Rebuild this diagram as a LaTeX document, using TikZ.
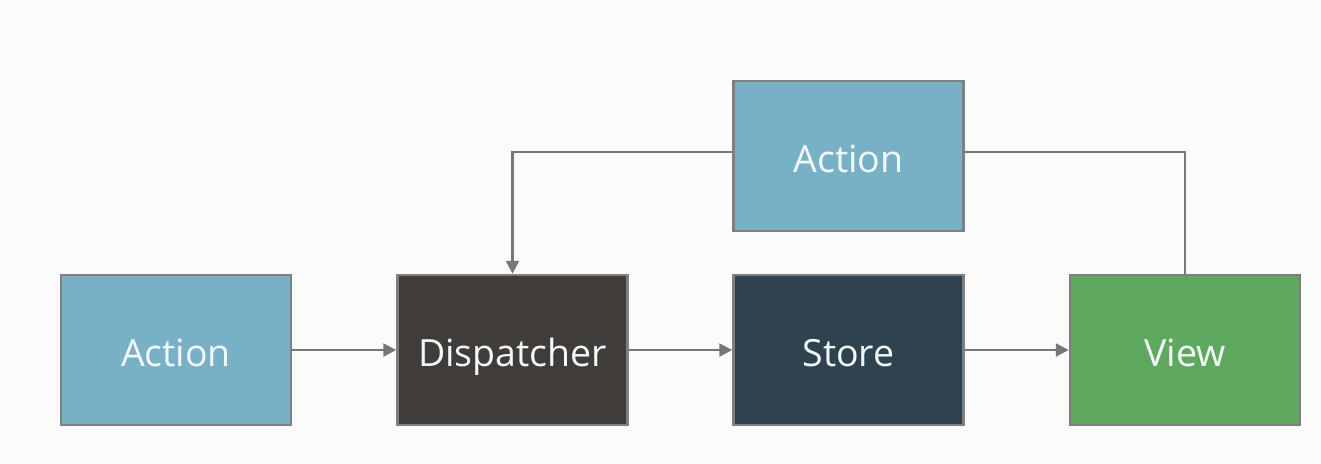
\documentclass[tikz,border=0pt]{standalone}
\usepackage{fontspec}
\setmainfont{Open Sans}
\usetikzlibrary{arrows.meta}
\definecolor{bgc}{HTML}{FBFBFC}
\definecolor{actionc}{HTML}{78B1C6}
\definecolor{dispc}{HTML}{3F3C3A}
\definecolor{storec}{HTML}{2E424F}
\definecolor{viewc}{HTML}{5EA95F}
\definecolor{edgec}{HTML}{7F7F7F}
\definecolor{linec}{HTML}{777777}
\definecolor{txtc}{HTML}{F2F8FA}
\begin{document}
\begin{tikzpicture}[x=1pt,y=-1pt,
  box/.style={draw=edgec,line width=2.5pt,minimum width=230pt,minimum height=150pt,
    inner sep=0pt,text height=36pt,text depth=4pt,text=txtc,
    font=\fontsize{37.5}{40}\selectfont},
  flow/.style={draw=linec,line width=2.5pt,-{Triangle[length=13pt,width=13pt]}},
  link/.style={draw=linec,line width=2.5pt}]
\fill[bgc] (0,0) rectangle (1321,463);
\useasboundingbox (0,0) rectangle (1321,463);
\node[box,fill=actionc] (a1) at (176,350) {Action};
\node[box,fill=dispc] (d) at (512.5,350) {Dispatcher};
\node[box,fill=storec] (s) at (848.5,350) {Store};
\node[box,fill=viewc] (v) at (1185,350) {View};
\node[box,fill=actionc] (a2) at (848.5,156) {Action};
\draw[flow] (a1) -- (d);
\draw[flow] (d) -- (s);
\draw[flow] (s) -- (v);
\draw[flow] ([yshift=4pt]a2.west) -| (d.north);
\draw[link] ([yshift=4pt]a2.east) -| (v.north);
\end{tikzpicture}
\end{document}
